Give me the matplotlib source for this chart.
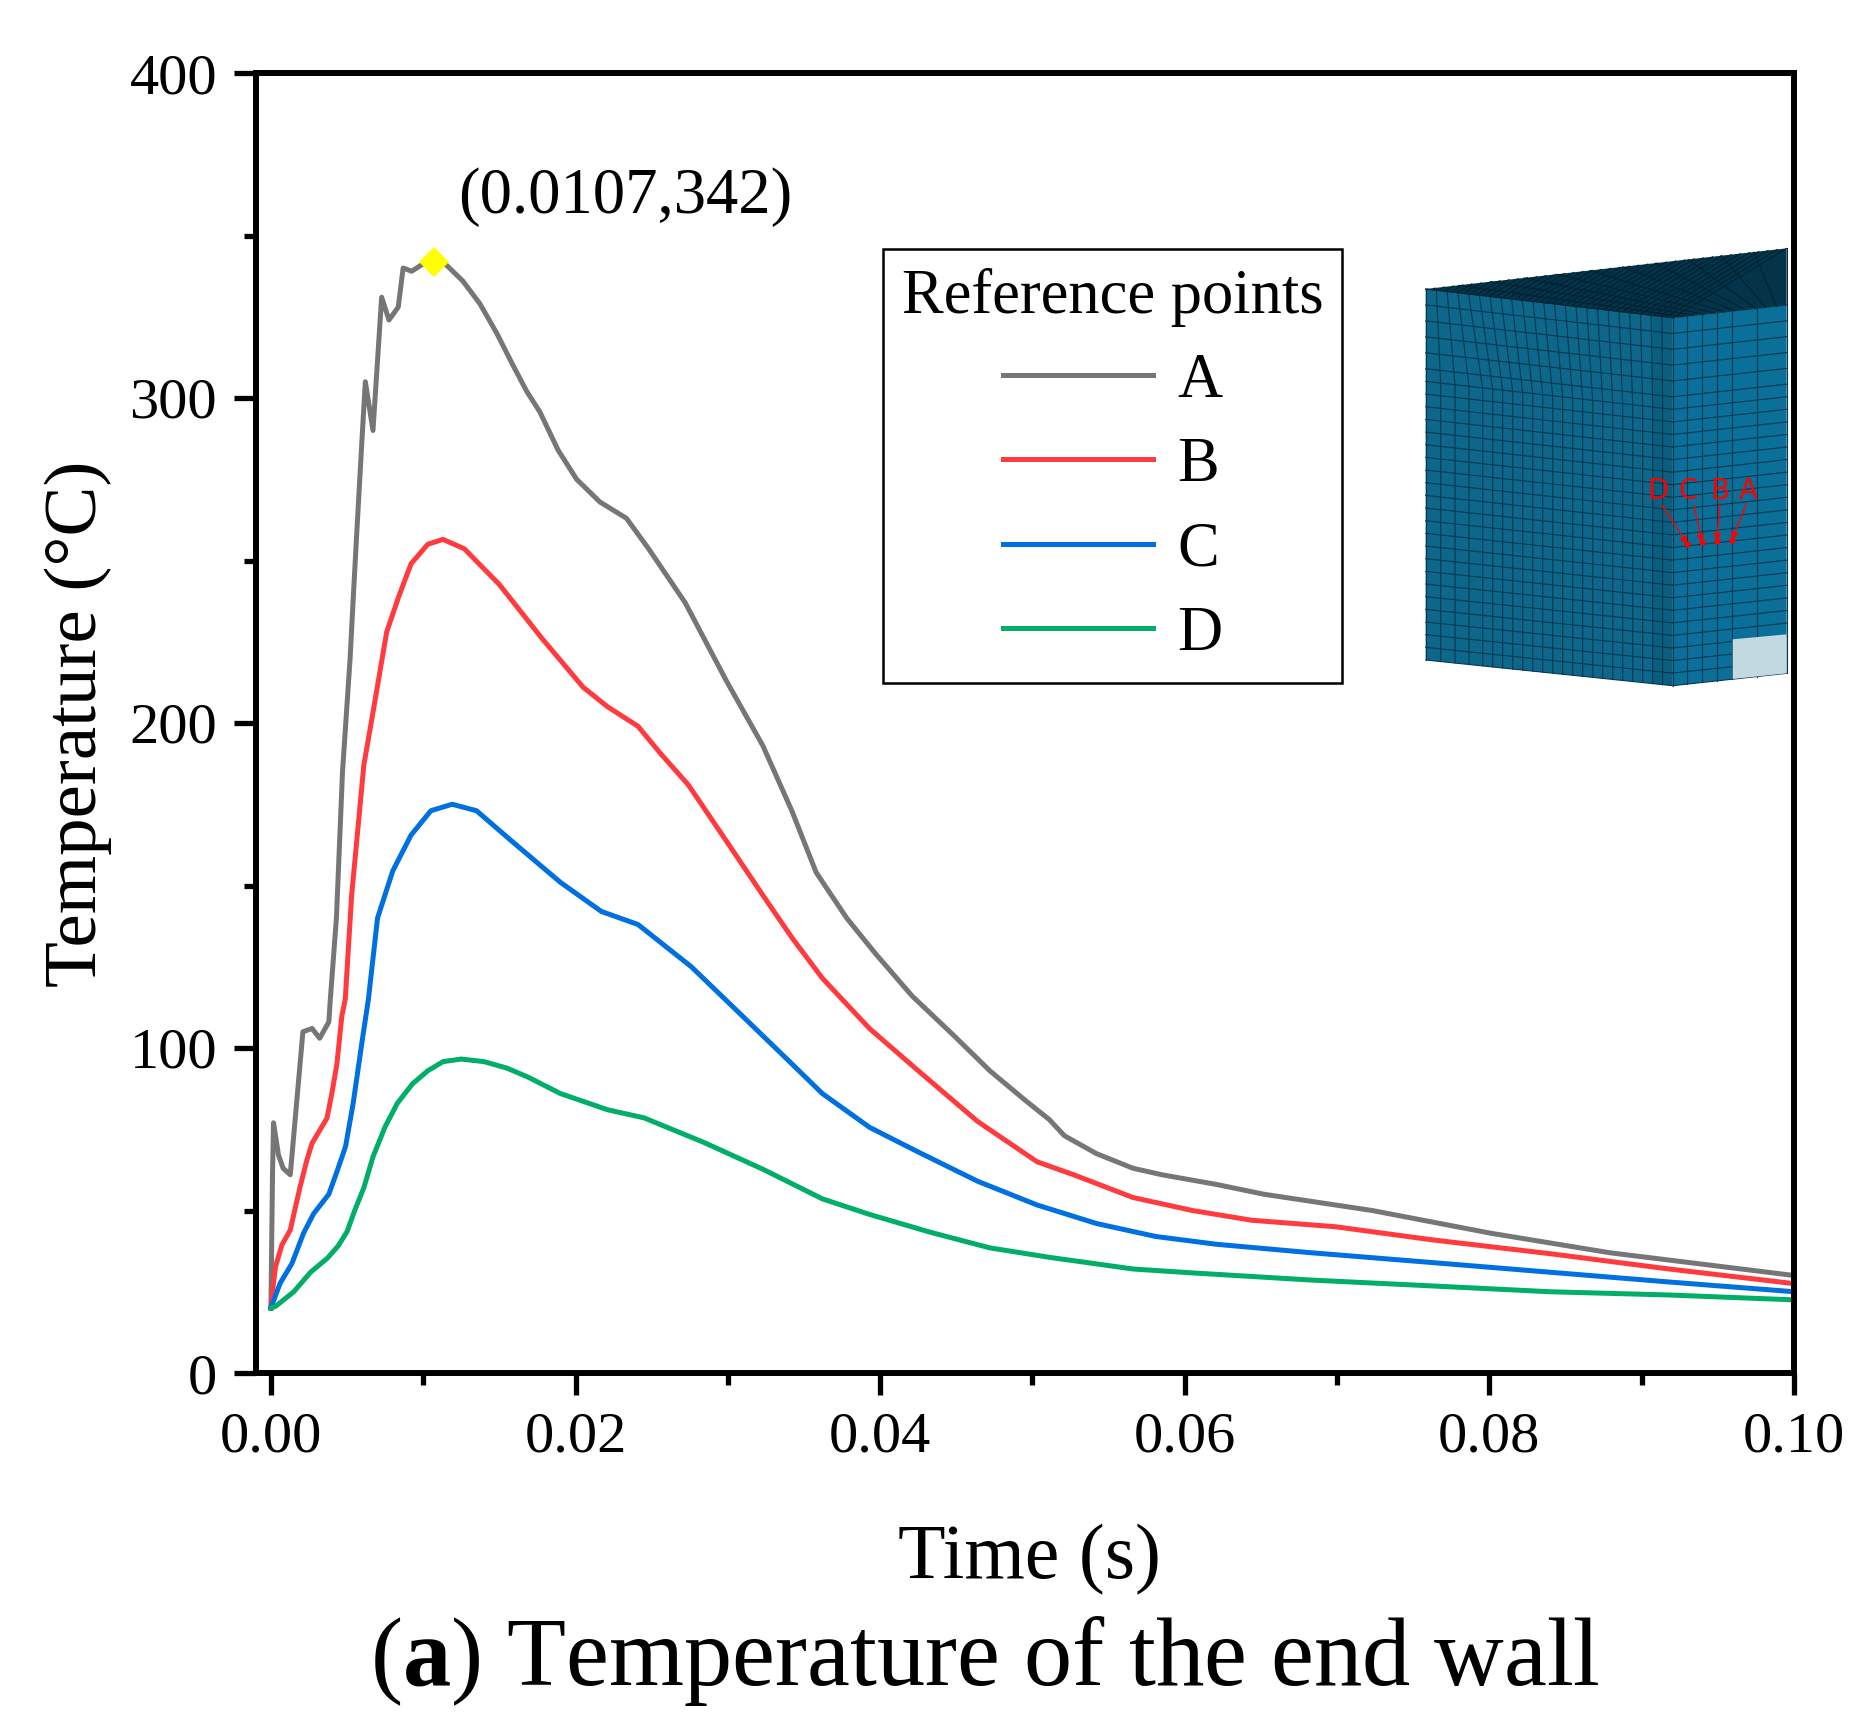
import matplotlib
matplotlib.use('Agg')
import matplotlib.pyplot as plt
import numpy as np
from matplotlib.patches import Polygon
from matplotlib.ticker import MultipleLocator

plt.rcParams['font.family'] = ['Liberation Serif', 'DejaVu Serif']
plt.rcParams['mathtext.fontset'] = 'custom'
plt.rcParams['mathtext.bf'] = 'Liberation Serif:bold'
plt.rcParams['mathtext.rm'] = 'Liberation Serif'

# curves
time_a = [0, 0.00005, 0.0001, 0.00017, 0.0005, 0.0008, 0.00127, 0.0021, 0.0027, 0.0032, 0.0038, 0.0039,
          0.0043, 0.0047, 0.0052, 0.0054, 0.00563, 0.0060, 0.0062, 0.0067, 0.00727, 0.00775, 0.00836, 0.00868,
          0.00924, 0.0099, 0.0107, 0.0115, 0.0126, 0.01372, 0.01482, 0.0159, 0.0168, 0.01766, 0.01885, 0.02007,
          0.0216, 0.02334, 0.0248, 0.0272, 0.0299, 0.0323, 0.0342, 0.0358, 0.0378, 0.0397, 0.0421, 0.0448,
          0.0472, 0.0495, 0.0511, 0.0521, 0.0542, 0.0566, 0.0585, 0.0621, 0.0652, 0.0723, 0.0801, 0.0879, 0.1]
temp_a = [20, 40, 60, 77, 67, 63, 61, 105, 106, 103, 108, 115,
          140, 185, 220, 238, 258, 289, 305, 290, 331, 324, 328, 340,
          339, 341, 342, 341, 336, 329, 320, 310, 302, 295.7, 284, 275,
          268, 263, 253.6, 237, 213, 193, 173, 154, 140, 129, 116, 104,
          93, 84, 78, 73, 67.5, 63, 61, 58, 55, 50, 43, 37, 30]

time_b = [0, 0.0001, 0.0003, 0.00072, 0.00127, 0.0019, 0.00236, 0.0027, 0.00368, 0.004, 0.00433, 0.00466, 0.00488,
          0.0053, 0.0061, 0.0068, 0.0076, 0.0084, 0.0092, 0.0103, 0.0113, 0.0127, 0.015, 0.0178, 0.0205, 0.0221,
          0.0241, 0.0256, 0.0274, 0.0299, 0.0323, 0.0342, 0.0362, 0.0393, 0.0425, 0.0464, 0.0503, 0.0527, 0.0566,
          0.0605, 0.0644, 0.0699, 0.0762, 0.084, 0.0918, 0.1]
temp_b = [20, 25, 32.7, 39.4, 44, 57, 65.5, 70.7, 78.4, 86, 95, 110, 115,
          147, 187, 206, 228, 239, 249, 255, 256.5, 253.6, 242.6, 226, 211, 205,
          199, 190.5, 181, 163.7, 147, 134, 121.5, 106, 93, 77.4, 65, 61, 54,
          50, 47, 45, 41, 36.7, 32, 27.5]

time_c = [0, 0.0006, 0.00138, 0.00214, 0.0028, 0.0038, 0.0043, 0.0049, 0.0054, 0.006, 0.0064,
          0.007, 0.008, 0.0092, 0.0105, 0.0119, 0.0135, 0.0158, 0.019, 0.0217, 0.0241, 0.0276, 0.0307,
          0.0339, 0.0362, 0.0393, 0.0425, 0.0464, 0.0503, 0.0542, 0.0581, 0.0621, 0.0683, 0.0762, 0.084, 0.0918, 0.1]
temp_c = [20, 27.6, 33.7, 43, 49, 55, 61.5, 69.7, 83, 102.5, 115,
          140, 154.5, 165.5, 173, 175, 173, 163.7, 151, 142, 138, 125, 111,
          96.5, 86, 75.6, 68, 59, 51.7, 46, 42, 39.6, 37, 34, 31, 28, 25]

time_d = [0, 0.0003, 0.0015, 0.0026, 0.0037, 0.0044, 0.005, 0.0055, 0.0061, 0.0067, 0.0075, 0.0083, 0.0093,
          0.0103, 0.0113, 0.0125, 0.014, 0.0155, 0.0169, 0.019, 0.0221, 0.0245, 0.0284, 0.0323, 0.0362, 0.0393,
          0.0433, 0.0472, 0.0511, 0.0566, 0.0605, 0.0683, 0.0762, 0.084, 0.0918, 0.1]
temp_d = [20, 20.5, 25, 31, 35.3, 39, 43.5, 50, 57, 66.5, 75.8, 83, 89,
          93, 95.8, 96.6, 95.8, 93.8, 91, 86, 81, 78.5, 71, 62.7, 53.6, 48.8,
          43.3, 38.5, 35.6, 32, 30.8, 28.6, 26.8, 25, 24, 22.5]

peak_time = [0.0107]
peak_temp = [342]
x_ticks = [0.00, 0.02, 0.04, 0.06, 0.08, 0.10]
y_ticks = [0, 100, 200, 300, 400]

W, H = 1870, 1736
fig = plt.figure(figsize=(W / 100, H / 100), dpi=100)
ax = fig.add_axes([256 / W, 1 - 1373 / H, (1794 - 256) / W, (1373 - 73) / H])

ax.plot(time_a, temp_a, color='#767676', lw=3.6, label='A')
ax.plot(time_b, temp_b, color='#FF3B3F', lw=3.6, label='B')
ax.plot(time_c, temp_c, color='#0070E0', lw=3.6, label='C')
ax.plot(time_d, temp_d, color='#00AE68', lw=3.6, label='D')
ax.plot(peak_time, peak_temp, 'D', color='#FFFF00', ms=15.5, mew=0)

ax.set_xlim(-0.00098, 0.1)
ax.set_ylim(0, 400)
ax.set_xticks(x_ticks)
ax.set_xticklabels(['%.2f' % t for t in x_ticks])
ax.set_yticks(y_ticks)
ax.xaxis.set_minor_locator(MultipleLocator(0.01))
ax.yaxis.set_minor_locator(MultipleLocator(50))
ax.tick_params(which='major', length=16, width=3.8, labelsize=42, pad=12)
ax.tick_params(which='minor', length=8.5, width=3.8)
for s in ax.spines.values():
    s.set_linewidth(4.3)

ax.set_xlabel('Time (s)', fontsize=56)
ax.set_ylabel('Temperature (°C)', fontsize=54)
ax.xaxis.set_label_coords((1029 - 256) / 1538, -(1560 - 1373) / 1300, transform=ax.transAxes)
ax.yaxis.set_label_coords((78 - 256) / 1538, (1373 - 724) / 1300, transform=ax.transAxes)
ax.xaxis.label.set_verticalalignment('center')
ax.yaxis.label.set_verticalalignment('center')

ax.text(458 / W, 1 - 197 / H, '(0.0107,342)', transform=fig.transFigure, fontsize=46.5, va='center', ha='left')
fig.text(985 / W, 1 - 1661 / H, r'($\mathbf{a}$) Temperature of the end wall', fontsize=69.5, ha='center', va='center')

leg = ax.legend(title='Reference points', loc='upper left', bbox_to_anchor=(883 / W, 1 - 249 / H),
                bbox_transform=fig.transFigure, fontsize=45, title_fontsize=45, fancybox=False, framealpha=1,
                edgecolor='black', handlelength=2.4, handletextpad=0.4, labelspacing=0.42, borderpad=0.3,
                borderaxespad=0)
leg.get_frame().set_linewidth(1.8)

# mesh picture, drawn in the pixel units of the zoomed crop
mesh = fig.add_axes([1400 / W, 1 - 710 / H, 420 / W, 480 / H], zorder=5)
mesh.set_xlim(0, 1260)
mesh.set_ylim(1440, 0)
mesh.axis('off')

line_col = '#06384f'
mesh.add_patch(Polygon([(77, 177), (818, 263), (818, 1367), (77, 1290)], fc='#0C678B', ec='none'))
mesh.add_patch(Polygon([(758, 256), (818, 263), (818, 1367), (758, 1361)], fc='#0A5F80', ec='none'))
mesh.add_patch(Polygon([(818, 263), (1160, 225), (1160, 1330), (818, 1367)], fc='#0A7099', ec='none'))
mesh.add_patch(Polygon([(77, 177), (1160, 55), (1160, 225), (818, 263)], fc='#03344A', ec='none'))
mesh.add_patch(Polygon([(998, 1228), (1160, 1213), (1160, 1330), (998, 1347)], fc='#C2D9E2', ec='none', zorder=3))


def left_top(x):
    return 177 + (x - 77) * (263 - 177) / (818 - 77)


def left_bot(x):
    return 1290 + (x - 77) * (1367 - 1290) / (818 - 77)


def right_top(x):
    return 263 + (x - 818) * (225 - 263) / (1160 - 818)


def right_bot(x):
    return 1367 + (x - 818) * (1330 - 1367) / (1160 - 818)


# row fractions: the upper rows of the wall are a bit taller
rows = np.concatenate([np.linspace(0, 0.215, 6), np.linspace(0.215, 1, 24)[1:]])
top_x = np.linspace(77, 818, 24)
bot_x = np.concatenate([[77, 122, 165, 207], np.linspace(248, 818, 20)])

for tx, bx in zip(top_x, bot_x):
    xs = [tx, bx, bx]
    ys = [left_top(tx), left_top(bx) + 0.25 * (left_bot(bx) - left_top(bx)), left_bot(bx)]
    mesh.plot(xs, ys, color=line_col, lw=0.8, zorder=2)
for v in rows:
    xs = np.concatenate([[77], bot_x[1:4], bot_x[4:]])
    ys = left_top(xs) + v * (left_bot(xs) - left_top(xs))
    mesh.plot(xs, ys, color=line_col, lw=0.8, zorder=2)

for x in [862, 906, 950, 995, 1070, 1160]:
    mesh.plot([x, x], [right_top(x), right_bot(x)], color=line_col, lw=0.8, zorder=2)
for v in rows:
    xs = np.array([818, 1160])
    ys = right_top(xs) + v * (right_bot(xs) - right_top(xs))
    mesh.plot(xs, ys, color=line_col, lw=0.8, zorder=2)

# top face
for f in np.linspace(0, 1, 40):
    mesh.plot([77 + f * 741, 77 + f * 1083], [177 + f * 86, 177 - f * 122], color='#021f2e', lw=0.7, zorder=2)
for f in np.linspace(0, 1, 12):
    mesh.plot([77 + f * 1083, 818 + f * 342], [177 - f * 122, 263 - f * 38], color='#021f2e', lw=0.7, zorder=2)

# reference points A-D
pt_names = ['D', 'C', 'B', 'A']
pt_text = [(775, 782), (866, 782), (960, 782), (1044, 782)]
pt_start = [(785, 825), (882, 825), (960, 820), (1040, 820)]
pt_end = [(862, 942), (906, 937), (950, 933), (996, 929)]
for name, t, s, e in zip(pt_names, pt_text, pt_start, pt_end):
    mesh.text(t[0], t[1], name, color='#FF0000', fontsize=20, family='DejaVu Sans', ha='center', va='center', zorder=6)
    mesh.annotate('', xy=e, xytext=s, arrowprops=dict(arrowstyle='-|>', color='#FF0000', lw=1, mutation_scale=11,
                                                      shrinkA=0, shrinkB=0), zorder=6)
    mesh.plot([e[0]], [e[1]], 'o', color='#FF0000', ms=4.5, mew=0, zorder=6)

fig.savefig('out.png', dpi=100)
